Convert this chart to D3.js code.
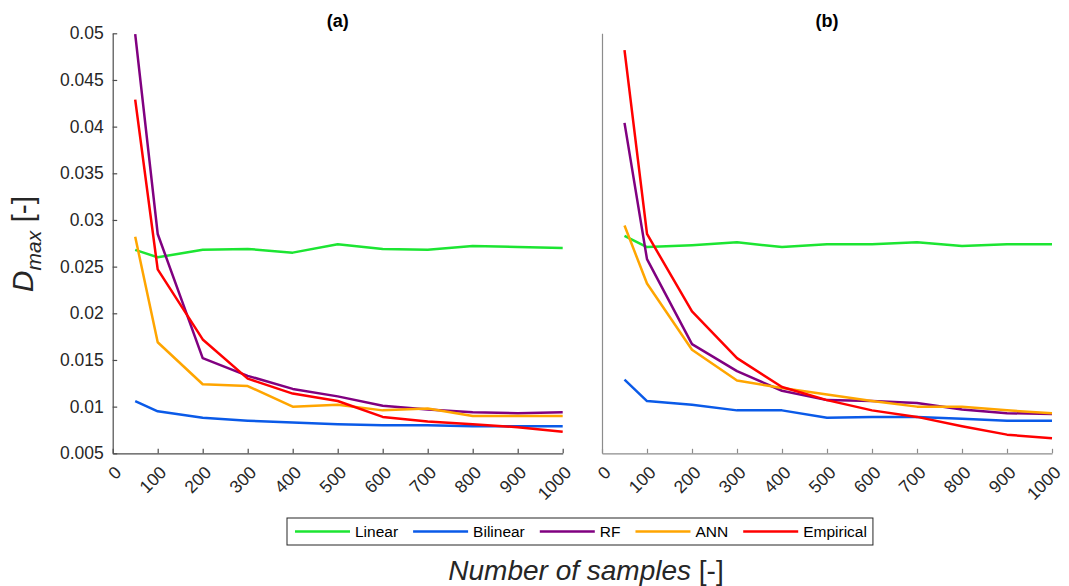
<!DOCTYPE html>
<html>
<head>
<meta charset="utf-8">
<script src="https://cdn.jsdelivr.net/npm/d3@7"></script>
<style>
  body { margin: 0; background: #fff; }
  svg { font-family: "Liberation Sans", Arial, sans-serif; }
  .tick text { fill: #262626; font-size: 17.5px; }
</style>
</head>
<body>
<div id="chart"></div>
<script>
// sample sizes on the x axis
var samples = [50, 100, 200, 300, 400, 500, 600, 700, 800, 900, 1000];
var xTicks = [0, 100, 200, 300, 400, 500, 600, 700, 800, 900, 1000];
var yTicks = [0.005, 0.01, 0.015, 0.02, 0.025, 0.03, 0.035, 0.04, 0.045, 0.05];

var seriesNames = ['Linear', 'Bilinear', 'RF', 'ANN', 'Empirical'];
var seriesColors = ['#1ce532', '#0a5ae8', '#800080', '#ffa500', '#ff0000'];

// panel (a)
var linearA    = [0.0268, 0.0260, 0.0268, 0.0269, 0.0265, 0.0274, 0.0269, 0.0268, 0.0272, 0.0271, 0.0270];
var bilinearA  = [0.0106, 0.0095, 0.0088, 0.0085, 0.0083, 0.0081, 0.0080, 0.0080, 0.0079, 0.0079, 0.0079];
var rfA        = [0.0499, 0.0285, 0.0152, 0.0133, 0.0119, 0.0111, 0.0101, 0.0097, 0.0094, 0.0093, 0.0094];
var annA       = [0.0282, 0.0169, 0.0124, 0.0122, 0.0100, 0.0102, 0.0096, 0.0098, 0.0090, 0.0090, 0.0090];
var empiricalA = [0.0429, 0.0247, 0.0172, 0.0130, 0.0114, 0.0106, 0.0089, 0.0084, 0.0081, 0.0078, 0.0073];

// panel (b)
var linearB    = [0.0283, 0.0271, 0.0273, 0.0276, 0.0271, 0.0274, 0.0274, 0.0276, 0.0272, 0.0274, 0.0274];
var bilinearB  = [0.0129, 0.0106, 0.0102, 0.0096, 0.0096, 0.0088, 0.0089, 0.0089, 0.0087, 0.0085, 0.0085];
var rfB        = [0.0404, 0.0258, 0.0167, 0.0138, 0.0117, 0.0107, 0.0106, 0.0104, 0.0097, 0.0093, 0.0092];
var annB       = [0.0294, 0.0232, 0.0161, 0.0128, 0.0120, 0.0113, 0.0106, 0.0100, 0.0100, 0.0096, 0.0093];
var empiricalB = [0.0482, 0.0285, 0.0202, 0.0152, 0.0121, 0.0107, 0.0096, 0.0089, 0.0079, 0.0070, 0.0066];

var width = 1069, height = 586;

var svg = d3.select('#chart')
  .append('svg')
    .attr('width', width)
    .attr('height', height);

var y = d3.scaleLinear().domain([0.005, 0.05]).range([453.3, 33.3]);

var panels = [
  { title: '(a)', left: 112.7, right: 562.7, series: [linearA, bilinearA, rfA, annA, empiricalA], axisColor: '#4d4d4d', yLabels: true },
  { title: '(b)', left: 602, right: 1052, series: [linearB, bilinearB, rfB, annB, empiricalB], axisColor: '#8c8c8c', yLabels: false }
];

panels.forEach(function(p){
  var x = d3.scaleLinear().domain([0, 1000]).range([p.left, p.right]);
  var g = svg.append('g');

  // Bottom axis, ticks pointing inward
  var xAxis = g.append('g')
    .attr('transform', 'translate(0,' + y.range()[0] + ')')
    .call(d3.axisBottom(x).tickValues(xTicks).tickFormat(d3.format('d'))
      .tickSizeInner(-4.5).tickSizeOuter(0).tickPadding(8));
  xAxis.selectAll('.tick text')
    .attr('text-anchor', 'end')
    .attr('dy', null)
    .attr('y', 0)
    .attr('transform', 'translate(6,17) rotate(-45)')
    .attr('dominant-baseline', 'middle');

  // Left axis
  g.append('g')
    .attr('transform', 'translate(' + p.left + ',0)')
    .call(d3.axisLeft(y).tickValues(yTicks).tickSizeInner(p.yLabels ? -4.5 : 0).tickSizeOuter(0).tickPadding(9)
      .tickFormat(function(d){ return p.yLabels ? String(+d.toFixed(3)) : ''; }));

  g.selectAll('.domain').attr('stroke', p.axisColor).attr('stroke-width', 1.2);
  g.selectAll('.tick line').attr('stroke', p.axisColor).attr('stroke-width', 1.2);

  // Lines
  var line = d3.line()
    .x(function(d, i){ return x(samples[i]); })
    .y(function(d){ return y(d); });

  g.selectAll('.series')
    .data(p.series)
    .enter()
      .append('path')
        .attr('class', 'series')
        .attr('d', line)
        .attr('fill', 'none')
        .attr('stroke', function(d, i){ return seriesColors[i]; })
        .attr('stroke-width', 2.5)
        .attr('stroke-linejoin', 'round');

  // Panel title
  g.append('text')
    .attr('x', (p.left + p.right) / 2)
    .attr('y', 27)
    .attr('text-anchor', 'middle')
    .attr('font-weight', 'bold')
    .attr('font-size', 18)
    .attr('fill', '#000')
    .text(p.title);
});

// Y axis title
var yTitle = svg.append('text')
  .attr('transform', 'translate(33,244) rotate(-90)')
  .attr('text-anchor', 'middle')
  .attr('fill', '#262626')
  .attr('font-size', 30);
yTitle.append('tspan').attr('font-style', 'italic').text('D');
yTitle.append('tspan').attr('font-style', 'italic').attr('font-size', 21).attr('dy', 8).text('max');
yTitle.append('tspan').attr('dy', -8).text(' [-]');

// X axis title
var xTitle = svg.append('text')
  .attr('x', 586)
  .attr('y', 580)
  .attr('text-anchor', 'middle')
  .attr('fill', '#262626')
  .attr('font-size', 28);
xTitle.append('tspan').attr('font-style', 'italic').text('Number of samples');
xTitle.append('tspan').text(' [-]');

// Legend
var legend = svg.append('g');
var legendBox = legend.append('rect')
  .attr('x', 287)
  .attr('y', 518)
  .attr('height', 27)
  .attr('fill', '#fff')
  .attr('stroke', '#262626')
  .attr('stroke-width', 1);

var lx = 295, ly = 531.5;
seriesNames.forEach(function(name, i){
  legend.append('line')
    .attr('x1', lx)
    .attr('x2', lx + 55)
    .attr('y1', ly)
    .attr('y2', ly)
    .attr('stroke', seriesColors[i])
    .attr('stroke-width', 2.5);
  var t = legend.append('text')
    .attr('x', lx + 60)
    .attr('y', ly + 5.5)
    .attr('font-size', 15.5)
    .attr('fill', '#000')
    .text(name);
  lx += 60 + t.node().getComputedTextLength() + 15;
});
legendBox.attr('width', lx - 15 + 6 - 287);
</script>
</body>
</html>
